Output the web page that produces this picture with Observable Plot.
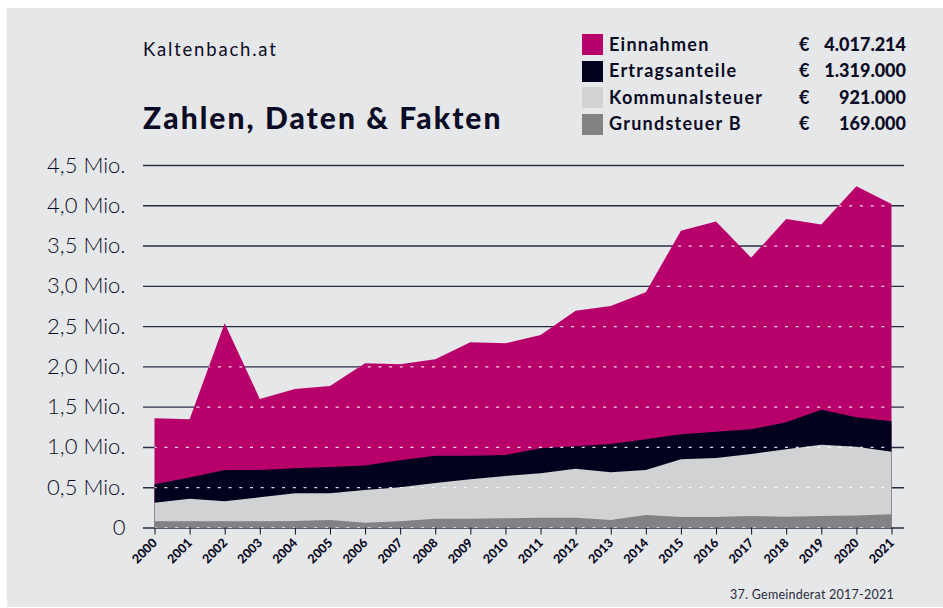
<!DOCTYPE html>
<html>
<head>
<meta charset="utf-8">
<script src="https://cdn.jsdelivr.net/npm/d3@7"></script>
<script src="https://cdn.jsdelivr.net/npm/@observablehq/plot@0.6"></script>
<style>
  html, body { margin: 0; padding: 0; background: #ffffff; }
  #page { position: relative; width: 943px; height: 608px; overflow: hidden; font-family: Lato, "Open Sans", sans-serif; color: #0b0b26; }
  #bg { position: absolute; left: 7px; top: 8px; width: 936px; height: 599px; background: #e6e7e9; }
  .txt { position: absolute; line-height: 1; white-space: nowrap; }
  #site { left: 143px; top: 40px; font-size: 18.5px; font-weight: 400; letter-spacing: 1.8px; }
  #title { left: 143px; top: 102px; font-size: 30px; font-weight: 900; letter-spacing: 2.05px; }
  #footer { right: 49px; top: 589px; font-size: 12.5px; font-weight: 400; color: #2a2b40; letter-spacing: 0.25px; }
  #legend { position: absolute; left: 582px; top: 34px; }
  .lrow { position: relative; height: 26.6px; width: 324px; }
  .sw { position: absolute; left: 0; top: 0; width: 21px; height: 21px; }
  .lab { position: absolute; left: 27px; top: 0.5px; font-size: 18px; font-weight: 700; line-height: 1; letter-spacing: 1.25px; }
  .eur { position: absolute; left: 217px; top: 0.5px; font-size: 18px; font-weight: 700; line-height: 1; }
  .val { position: absolute; right: 0; top: 0.5px; font-size: 18px; font-weight: 900; line-height: 1; }
  #chart { position: absolute; left: 0; top: 0; }
</style>
</head>
<body>
<div id="page">
  <div id="bg"></div>
  <div class="txt" id="site">Kaltenbach.at</div>
  <div class="txt" id="title">Zahlen, Daten &amp; Fakten</div>
  <div id="legend"></div>
  <div id="chart"></div>
  <div class="txt" id="footer">37. Gemeinderat 2017-2021</div>
</div>
<script>
// ---- data (values in Mio. €) ----
const years = [2000, 2001, 2002, 2003, 2004, 2005, 2006, 2007, 2008, 2009, 2010,
               2011, 2012, 2013, 2014, 2015, 2016, 2017, 2018, 2019, 2020, 2021];
const einnahmen = [1.355, 1.343, 2.535, 1.595, 1.72, 1.756, 2.04, 2.026, 2.09, 2.30, 2.287,
                   2.39, 2.69, 2.75, 2.92, 3.684, 3.80, 3.35, 3.83, 3.76, 4.235, 4.017];
const ertragsanteile = [0.536, 0.62, 0.714, 0.714, 0.735, 0.75, 0.77, 0.836, 0.89, 0.89, 0.90,
                        0.983, 1.01, 1.036, 1.095, 1.157, 1.19, 1.219, 1.306, 1.462, 1.368, 1.319];
const kommunalsteuer = [0.308, 0.357, 0.325, 0.375, 0.424, 0.424, 0.465, 0.50, 0.552, 0.60, 0.64,
                        0.672, 0.73, 0.685, 0.714, 0.846, 0.862, 0.912, 0.97, 1.028, 1.003, 0.94];
const grundsteuerB = [0.077, 0.077, 0.077, 0.077, 0.08, 0.093, 0.06, 0.077, 0.11, 0.11, 0.115,
                      0.12, 0.12, 0.093, 0.155, 0.13, 0.13, 0.143, 0.135, 0.143, 0.15, 0.164];

const seriesNames = ["Einnahmen", "Ertragsanteile", "Kommunalsteuer", "Grundsteuer B"];
const seriesColors = ["#b8006b", "#02021e", "#d1d2d4", "#808283"];
const legendValues = ["4.017.214", "1.319.000", "921.000", "169.000"];
const yTicks = [0, 0.5, 1, 1.5, 2, 2.5, 3, 3.5, 4, 4.5];

// ---- legend ----
const legend = document.getElementById("legend");
seriesNames.forEach((name, i) => {
  const row = document.createElement("div");
  row.className = "lrow";
  row.innerHTML = `<div class="sw" style="background:${seriesColors[i]}"></div>` +
    `<div class="lab">${name}</div><div class="eur">€</div><div class="val">${legendValues[i]}</div>`;
  legend.appendChild(row);
});

// ---- table ----
const rows = years.map((year, i) => ({
  year,
  einnahmen: einnahmen[i],
  ertragsanteile: ertragsanteile[i],
  kommunalsteuer: kommunalsteuer[i],
  grundsteuerB: grundsteuerB[i]
}));
const keys = ["einnahmen", "ertragsanteile", "kommunalsteuer", "grundsteuerB"];

const fmt = d => d === 0 ? "0" : d.toFixed(1).replace(".", ",") + " Mio.";

const plot = Plot.plot({
  width: 943,
  height: 608,
  marginTop: 165,
  marginBottom: 80.5,
  marginLeft: 143,
  marginRight: 39,
  style: { background: "transparent", fontFamily: "Lato, sans-serif", color: "#0b0b26", overflow: "visible" },
  x: { domain: [2000, 2021], insetLeft: 11.5, insetRight: 12.5 },
  y: { domain: [0, 4.5] },
  marks: [
    Plot.ruleY(yTicks, { stroke: "#2b2c44", strokeWidth: 1.4 }),
    ...keys.map((k, i) => Plot.areaY(rows, { x: "year", y: k, fill: seriesColors[i] })),
    Plot.ruleY(yTicks, { stroke: "#ffffff", strokeWidth: 1.3, strokeOpacity: 0.85, strokeDasharray: "3,7.7", ariaDescription: "dashgrid" }),
    Plot.axisY(yTicks, { tickSize: 0, tickPadding: 18, tickFormat: fmt, fontSize: 22, fontWeight: 300, label: null }),
    Plot.axisX(years, { tickSize: 7, tickRotate: -45, tickFormat: d => String(d), fontSize: 12.5, fontWeight: 900, label: null, stroke: "#0b0b26" })
  ]
});
document.getElementById("chart").appendChild(plot);

// clip the white dashed grid to the outer (Einnahmen) area
const svg = plot.tagName.toLowerCase() === "svg" ? plot : plot.querySelector("svg");
const areaPath = svg.querySelector('g[aria-label="area"] path');
let dashG = svg.querySelector('g[aria-description="dashgrid"]');
if (!dashG) {
  const rules = svg.querySelectorAll('g[aria-label="rule"]');
  dashG = rules[rules.length - 1];
}
if (areaPath && dashG) {
  const ns = "http://www.w3.org/2000/svg";
  const defs = document.createElementNS(ns, "defs");
  const cp = document.createElementNS(ns, "clipPath");
  cp.setAttribute("id", "pinkclip");
  const p = document.createElementNS(ns, "path");
  p.setAttribute("d", areaPath.getAttribute("d"));
  cp.appendChild(p);
  defs.appendChild(cp);
  svg.insertBefore(defs, svg.firstChild);
  dashG.setAttribute("clip-path", "url(#pinkclip)");
}
</script>
</body>
</html>
